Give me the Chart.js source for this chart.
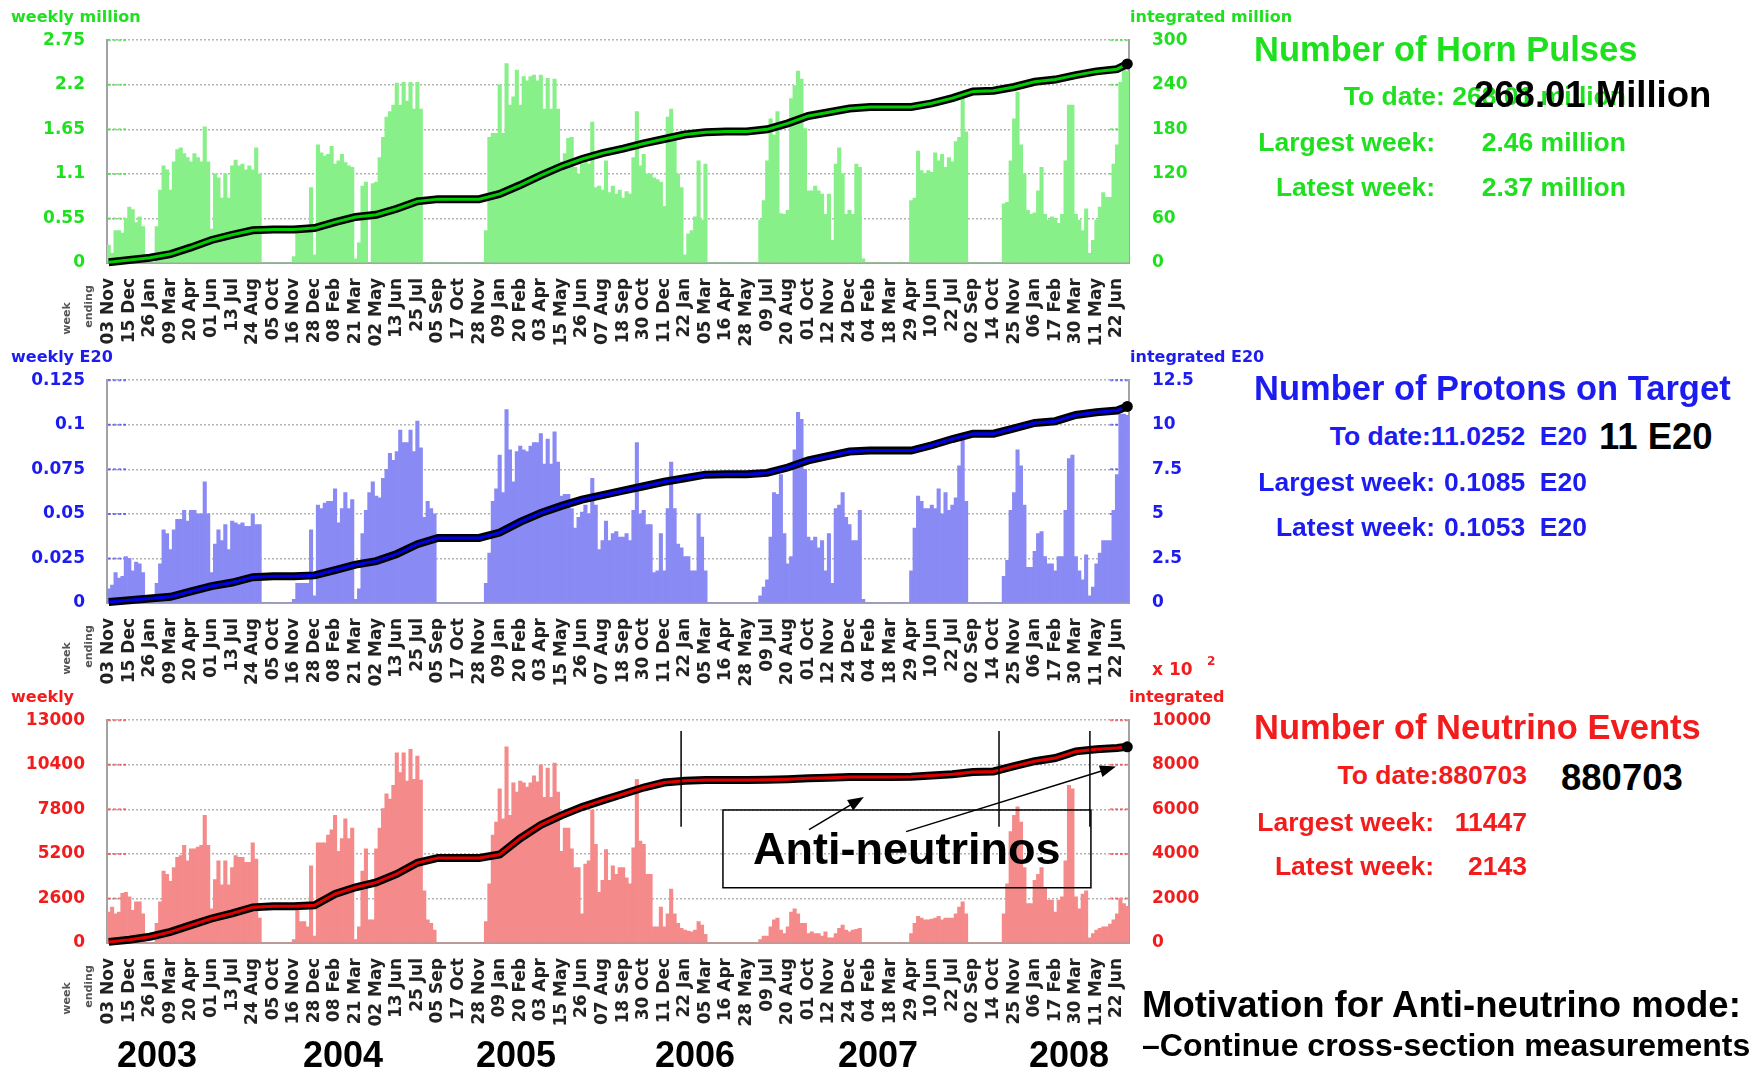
<!DOCTYPE html>
<html>
<head>
<meta charset="utf-8">
<script src="https://cdn.jsdelivr.net/npm/chart.js@4.4.1/dist/chart.umd.min.js"></script>
<style>
    body { margin: 0; background: #fff; width: 1754px; height: 1071px; overflow: hidden; position: relative; }
    .panel { position: absolute; left: 0; width: 1300px; height: 340px; }
    .txt { position: absolute; white-space: pre; font-weight: bold; line-height: 1; font-family: 'Liberation Sans', Arial, sans-serif; }
</style>
</head>
<body>
<div class="panel" style="top:7px"><canvas id="pulses" width="1300" height="340"></canvas></div>
<div class="panel" style="top:347px"><canvas id="pot" width="1300" height="340"></canvas></div>
<div class="panel" style="top:687px"><canvas id="events" width="1300" height="340"></canvas></div>

<script>
// week-ending labels, one every 6 weeks
const tickLabels = [
    '03 Nov', '15 Dec', '26 Jan', '09 Mar', '20 Apr', '01 Jun', '13 Jul', '24 Aug', '05 Oct', '16 Nov',
    '28 Dec', '08 Feb', '21 Mar', '02 May', '13 Jun', '25 Jul', '05 Sep', '17 Oct', '28 Nov', '09 Jan',
    '20 Feb', '03 Apr', '15 May', '26 Jun', '07 Aug', '18 Sep', '30 Oct', '11 Dec', '22 Jan', '05 Mar',
    '16 Apr', '28 May', '09 Jul', '20 Aug', '01 Oct', '12 Nov', '24 Dec', '04 Feb', '18 Mar', '29 Apr',
    '10 Jun', '22 Jul', '02 Sep', '14 Oct', '25 Nov', '06 Jan', '17 Feb', '30 Mar', '11 May', '22 Jun'
];
const years = ['2003', '2004', '2005', '2006', '2007', '2008'];

const pulsesTicks = ['0', '0.55', '1.1', '1.65', '2.2', '2.75'];
const pulsesTotalTicks = ['0', '60', '120', '180', '240', '300'];
const potTicks = ['0', '0.025', '0.05', '0.075', '0.1', '0.125'];
const potTotalTicks = ['0', '2.5', '5', '7.5', '10', '12.5'];
const eventTicks = ['0', '2600', '5200', '7800', '10400', '13000'];
const eventTotalTicks = ['0', '2000', '4000', '6000', '8000', '10000'];

// weekly horn pulses (million), one row = 6 weeks
const pulsesWeekly = [
    0.22, 0.12, 0.40, 0.40, 0.37, 0.55,
    0.69, 0.66, 0.50, 0.57, 0.45, 0,
    0, 0, 0.45, 0.90, 1.20, 1.15,
    0.90, 1.25, 1.40, 1.42, 1.35, 1.30,
    1.25, 1.35, 1.30, 1.25, 1.68, 1.25,
    0.42, 1.10, 1.05, 0.80, 1.10, 0.80,
    1.20, 1.27, 1.20, 1.22, 1.15, 1.20,
    1.15, 1.42, 1.10, 0, 0, 0,
    0, 0, 0, 0, 0, 0,
    0.08, 0.45, 0.45, 0.42, 0.45, 0.93,
    0.10, 1.46, 1.36, 1.32, 1.34, 1.44,
    1.22, 1.26, 1.34, 1.24, 1.20, 1.18,
    0.05, 0.25, 0.95, 1.00, 0, 0.98,
    1.00, 1.30, 1.55, 1.80, 1.87, 1.95,
    2.22, 1.95, 2.23, 2.00, 2.23, 1.90,
    2.23, 1.90, 0, 0, 0, 0,
    0, 0, 0, 0, 0, 0,
    0, 0, 0, 0, 0, 0,
    0, 0, 0.40, 1.55, 1.60, 1.60,
    2.20, 1.60, 2.46, 1.95, 2.05, 2.38,
    1.95, 2.30, 2.25, 2.30, 2.32, 2.25,
    2.32, 1.90, 2.28, 1.90, 2.27, 1.90,
    1.25, 1.35, 1.54, 1.55, 1.18, 1.10,
    1.22, 1.30, 1.22, 1.74, 0.93, 0.95,
    0.90, 1.26, 0.87, 0.95, 0.85, 0.90,
    0.80, 0.88, 0.85, 1.30, 1.87, 1.20,
    1.34, 1.10, 1.10, 1.05, 1.03, 1.00,
    0.70, 1.80, 1.90, 1.55, 1.10, 0.93,
    0.10, 0.36, 0.40, 0.57, 1.26, 0.53,
    1.22, 0, 0, 0, 0, 0,
    0, 0, 0, 0, 0, 0,
    0, 0, 0, 0, 0.53, 0.77,
    1.26, 1.78, 1.58, 1.87, 0.61, 0.60,
    0.65, 2.03, 2.19, 2.37, 2.27, 1.66,
    0.89, 0.89, 0.95, 0.89, 0.85, 0.60,
    0.85, 0.28, 1.22, 1.42, 1.10, 0.60,
    0.65, 0.60, 1.22, 1.18, 0.05, 0,
    0, 0, 0, 0, 0, 0,
    0, 0, 0, 0, 0, 0,
    0.77, 0.80, 1.38, 1.14, 1.10, 1.14,
    1.12, 1.36, 1.26, 1.34, 1.18, 1.30,
    1.25, 1.50, 1.55, 2.03, 1.62, 0,
    0, 0, 0, 0, 0, 0,
    0, 0, 0, 0.73, 0.75, 1.26,
    1.78, 2.11, 1.46, 1.10, 0.65, 0.60,
    0.62, 0.89, 1.18, 0.60, 0.53, 0.57,
    0.55, 0.49, 0.60, 1.26, 1.95, 1.95,
    0.60, 0.53, 0.40, 0.67, 0.12, 0.28,
    0.53, 0.69, 0.87, 0.81, 0.81, 1.22,
    1.46, 2.23, 2.40, 2.37
];

// weekly protons on target (E20)
const potWeekly = [
    0.008, 0.010, 0.017, 0.014, 0.015, 0.026,
    0.025, 0.018, 0.023, 0.022, 0.017, 0,
    0, 0, 0.011, 0.022, 0.041, 0.039,
    0.030, 0.041, 0.047, 0.047, 0.052, 0.046,
    0.052, 0.052, 0.050, 0.050, 0.068, 0.050,
    0.017, 0.033, 0.041, 0.035, 0.044, 0.030,
    0.046, 0.045, 0.044, 0.045, 0.043, 0.043,
    0.050, 0.044, 0.044, 0, 0, 0,
    0, 0, 0, 0, 0, 0,
    0.002, 0.011, 0.011, 0.011, 0.011, 0.041,
    0.004, 0.055, 0.053, 0.056, 0.057, 0.057,
    0.064, 0.045, 0.053, 0.062, 0.053, 0.058,
    0.002, 0.008, 0.039, 0.052, 0.062, 0.068,
    0.060, 0.059, 0.070, 0.075, 0.084, 0.080,
    0.085, 0.097, 0.090, 0.090, 0.097, 0.085,
    0.102, 0.087, 0.048, 0.057, 0.053, 0.050,
    0, 0, 0, 0, 0, 0,
    0, 0, 0, 0, 0, 0,
    0, 0, 0.011, 0.028, 0.057, 0.064,
    0.083, 0.062, 0.1085, 0.086, 0.068, 0.085,
    0.088, 0.086, 0.085, 0.088, 0.090, 0.090,
    0.095, 0.078, 0.092, 0.078, 0.096, 0.079,
    0.060, 0.061, 0.061, 0.053, 0.042, 0.048,
    0.051, 0.055, 0.050, 0.070, 0.055, 0.030,
    0.035, 0.046, 0.035, 0.039, 0.040, 0.037,
    0.037, 0.039, 0.035, 0.052, 0.090, 0.050,
    0.052, 0.044, 0.044, 0.017, 0.018, 0.039,
    0.018, 0.053, 0.079, 0.053, 0.033, 0.031,
    0.026, 0.026, 0.018, 0.018, 0.050, 0.037,
    0.018, 0, 0, 0, 0, 0,
    0, 0, 0, 0, 0, 0,
    0, 0, 0, 0, 0.004, 0.009,
    0.013, 0.037, 0.062, 0.061, 0.072, 0.039,
    0.022, 0.026, 0.086, 0.107, 0.103, 0.075,
    0.037, 0.035, 0.037, 0.031, 0.035, 0.018,
    0.039, 0.011, 0.053, 0.055, 0.062, 0.048,
    0.044, 0.035, 0.035, 0.052, 0.002, 0,
    0, 0, 0, 0, 0, 0,
    0, 0, 0, 0, 0, 0,
    0.018, 0.042, 0.060, 0.057, 0.053, 0.053,
    0.055, 0.053, 0.064, 0.050, 0.062, 0.052,
    0.055, 0.059, 0.077, 0.092, 0.057, 0,
    0, 0, 0, 0, 0, 0,
    0, 0, 0, 0.015, 0.024, 0.052,
    0.062, 0.086, 0.077, 0.055, 0.020, 0.020,
    0.029, 0.039, 0.040, 0.026, 0.022, 0.022,
    0.018, 0.026, 0.026, 0.052, 0.081, 0.083,
    0.026, 0.018, 0.013, 0.027, 0.004, 0.009,
    0.022, 0.028, 0.035, 0.035, 0.035, 0.052,
    0.072, 0.106, 0.106, 0.1053
];

// weekly neutrino events
const eventsWeekly = [
    1800, 2100, 1700, 1800, 2900, 2950,
    2700, 1900, 2400, 2400, 1700, 0,
    0, 0, 1150, 2400, 4200, 4000,
    3600, 4400, 5000, 5100, 5700, 4800,
    5500, 5500, 5600, 5700, 7450, 5700,
    2000, 3700, 4800, 3400, 4800, 3400,
    4400, 5100, 5000, 5000, 4700, 4700,
    5850, 4900, 1450, 0, 0, 0,
    0, 0, 0, 0, 0, 0,
    200, 1900, 1250, 1250, 950, 4500,
    400, 5850, 5850, 5850, 6300, 6600,
    7450, 5350, 6100, 7250, 6100, 6700,
    200, 950, 4200, 5500, 1350, 1350,
    5500, 6700, 7850, 8700, 8400, 9200,
    11100, 9950, 11100, 9450, 11300, 9550,
    10900, 9500, 3050, 1350, 1150, 750,
    0, 0, 0, 0, 0, 0,
    0, 0, 0, 0, 0, 0,
    0, 0, 1250, 3450, 6300, 7050,
    9000, 7250, 11447, 7450, 9350, 8800,
    9450, 9350, 9100, 9350, 9750, 9400,
    10400, 8500, 10200, 8500, 10500, 8800,
    5350, 6700, 6700, 5500, 4400, 4400,
    1700, 4600, 4800, 7750, 5750, 2950,
    3650, 5450, 3650, 4500, 4000, 4400,
    4400, 3800, 3450, 5550, 9550, 5950,
    5750, 4000, 4000, 950, 950, 2100,
    950, 1700, 3150, 1700, 1150, 850,
    750, 700, 650, 750, 1250, 1050,
    500, 0, 0, 0, 0, 0,
    0, 0, 0, 0, 0, 0,
    0, 0, 0, 0, 200, 400,
    400, 950, 1350, 1450, 750, 550,
    950, 1800, 2000, 1700, 1150, 1150,
    550, 650, 550, 550, 400, 650,
    300, 300, 550, 850, 1050, 750,
    650, 750, 800, 850, 0, 0,
    0, 0, 0, 0, 0, 0,
    0, 0, 0, 0, 0, 0,
    550, 1150, 1550, 1450, 1350, 1350,
    1400, 1450, 1550, 1350, 1450, 1450,
    1450, 1700, 2100, 2400, 1700, 0,
    0, 0, 0, 0, 0, 0,
    0, 0, 0, 1700, 3450, 6500,
    7450, 7950, 7050, 4400, 2300, 2300,
    3650, 4000, 4400, 3250, 2500, 2500,
    1800, 2500, 2700, 4800, 9200, 9000,
    2700, 2000, 2850, 3050, 300, 550,
    750, 850, 950, 950, 1100, 1350,
    1700, 2600, 2300, 2143
];

// integrated totals read at each labelled week, plus the final week
const pulsesTotal = [
    1, 4, 7, 12, 21, 31, 38, 44, 45, 45,
    47, 55, 62, 65, 73, 83, 86, 86, 86, 93,
    105, 118, 130, 140, 148, 154, 161, 167, 173, 176,
    177, 177, 180, 188, 198, 203, 208, 210, 210, 210,
    215, 222, 231, 232, 237, 244, 247, 253, 258, 261,
    268
];
const potTotal = [
    0.05, 0.15, 0.25, 0.35, 0.65, 0.95, 1.15, 1.45, 1.5, 1.5,
    1.55, 1.85, 2.15, 2.35, 2.75, 3.3, 3.65, 3.65, 3.65, 3.95,
    4.55, 5.05, 5.45, 5.8, 6.05, 6.3, 6.55, 6.8, 7.0, 7.2,
    7.22, 7.22, 7.3, 7.6, 8.0, 8.25, 8.5, 8.55, 8.55, 8.55,
    8.85, 9.2, 9.5, 9.5, 9.8, 10.1, 10.2, 10.55, 10.7, 10.8,
    11.03
];
const eventsTotal = [
    50, 150, 280, 500, 800, 1100, 1330, 1600, 1650, 1650,
    1690, 2200, 2500, 2720, 3100, 3600, 3820, 3820, 3820, 3970,
    4700, 5300, 5730, 6100, 6400, 6690, 6980, 7200, 7280, 7320,
    7320, 7320, 7330, 7350, 7390, 7420, 7450, 7450, 7450, 7460,
    7520, 7570, 7670, 7700, 7940, 8160, 8300, 8600, 8700, 8750,
    8807
];

const plotFont = 'DejaVu Sans';

function arrow(ctx, x1, y1, x2, y2) {
    const a = Math.atan2(y2 - y1, x2 - x1);
    ctx.beginPath();
    ctx.moveTo(x1, y1);
    ctx.lineTo(x2 - 10 * Math.cos(a), y2 - 10 * Math.sin(a));
    ctx.stroke();
    ctx.beginPath();
    ctx.moveTo(x2, y2);
    ctx.lineTo(x2 - 16 * Math.cos(a) + 6 * Math.sin(a), y2 - 16 * Math.sin(a) - 6 * Math.cos(a));
    ctx.lineTo(x2 - 16 * Math.cos(a) - 6 * Math.sin(a), y2 - 16 * Math.sin(a) + 6 * Math.cos(a));
    ctx.closePath();
    ctx.fill();
}

// short coloured dashes where the grid lines meet the two axes
const edgeTicks = {
    id: 'edgeTicks',
    beforeDatasetsDraw(chart, args, opts) {
        const { ctx, chartArea: a, scales: { y } } = chart;
        ctx.save();
        ctx.strokeStyle = opts.color;
        ctx.globalAlpha = 0.55;
        ctx.lineWidth = 2;
        ctx.setLineDash([3, 2]);
        y.ticks.forEach(t => {
            if (t.value === 0) return;
            const py = y.getPixelForValue(t.value);
            ctx.beginPath();
            ctx.moveTo(a.left + 1, py); ctx.lineTo(a.left + 19, py);
            ctx.moveTo(a.right - 19, py); ctx.lineTo(a.right - 1, py);
            ctx.stroke();
        });
        ctx.restore();
    }
};

const antiNote = {
    id: 'antiNote',
    afterDraw(chart) {
        const { ctx, scales: { x, y2 } } = chart;
        const px = w => x.getPixelForValue(w);
        const py = v => y2.getPixelForValue(v);
        ctx.save();
        ctx.strokeStyle = '#000';
        ctx.fillStyle = '#000';
        ctx.lineWidth = 1.5;
        [166.9, 259.6, 286.1].forEach(w => {
            ctx.beginPath();
            ctx.moveTo(px(w), py(9510));
            ctx.lineTo(px(w), py(5220));
            ctx.stroke();
        });
        ctx.strokeRect(px(179.1), py(5970), px(286.4) - px(179.1), py(2480) - py(5970));
        arrow(ctx, px(204.2), py(5090), px(220.2), py(6550));
        arrow(ctx, px(232.5), py(5000), px(293.7), py(7920));
        ctx.font = 'bold 45px "Liberation Sans", Arial, sans-serif';
        ctx.textAlign = 'center';
        ctx.textBaseline = 'middle';
        ctx.fillText('Anti-neutrinos', px(232.7), py(4204) + 2);
        ctx.restore();
    }
};

function makePanel(id, weekly, total, leftTicks, rightTicks, color, barColor, lineColor, extra) {
    const n = weekly.length;
    const weeks = weekly.map((_, i) => i);
    const totalLine = new Array(n).fill(null);
    total.forEach((v, k) => { totalLine[k < tickLabels.length ? k * 6 : n - 1] = v; });
    const tickFont = { family: plotFont, weight: 'bold', size: 17 };

    return new Chart(document.getElementById(id), {
        type: 'bar',
        data: {
            labels: weeks,
            datasets: [
                {
                    type: 'line', data: totalLine, yAxisID: 'y2', order: 1, spanGaps: true,
                    borderColor: lineColor, borderWidth: 3,
                    pointRadius: c => c.dataIndex === n - 1 ? 5.5 : 0,
                    pointBackgroundColor: '#000', pointBorderWidth: 0, clip: false
                },
                {
                    type: 'line', data: totalLine, yAxisID: 'y2', order: 2, spanGaps: true,
                    borderColor: '#000', borderWidth: 8, pointRadius: 0, clip: false
                },
                {
                    data: weekly, yAxisID: 'y', order: 3,
                    backgroundColor: barColor, barPercentage: 1, categoryPercentage: 1
                }
            ]
        },
        options: {
            responsive: false,
            animation: false,
            events: [],
            layout: { padding: { top: 30, left: 0, right: 0, bottom: 0 } },
            plugins: { legend: { display: false }, tooltip: { enabled: false }, edgeTicks: { color } },
            scales: {
                x: {
                    offset: true,
                    grid: { display: false },
                    border: { color: '#a3a3a3', width: 2 },
                    ticks: {
                        autoSkip: false, minRotation: 90, maxRotation: 90, padding: 7,
                        color: '#222', font: tickFont,
                        callback: (v, i) => i % 6 === 0 ? tickLabels[i / 6] : ''
                    },
                    afterFit: s => { s.height = 84; }
                },
                y: {
                    position: 'left',
                    min: 0, max: parseFloat(leftTicks[leftTicks.length - 1]),
                    afterBuildTicks: s => { s.ticks = leftTicks.map(t => ({ value: parseFloat(t) })); },
                    ticks: { padding: 22, color, font: tickFont, callback: (v, i) => leftTicks[i] },
                    grid: { color: '#b4b4b4', lineWidth: 1.5, drawTicks: false },
                    border: { color: '#a3a3a3', width: 2, dash: [2, 2] },
                    afterFit: s => { s.width = 107; }
                },
                y2: {
                    position: 'right',
                    min: 0, max: parseFloat(rightTicks[rightTicks.length - 1]),
                    afterBuildTicks: s => { s.ticks = rightTicks.map(t => ({ value: parseFloat(t) })); },
                    ticks: { padding: 23, color, font: tickFont, callback: (v, i) => rightTicks[i] },
                    grid: { display: false, drawTicks: false },
                    border: { color: '#a3a3a3', width: 2 },
                    afterFit: s => { s.width = 171; }
                }
            }
        },
        plugins: [edgeTicks].concat(extra || [])
    });
}

const green = '#1fe01f', blue = '#1c1cf0', red = '#f21c1c';

makePanel('pulses', pulsesWeekly, pulsesTotal, pulsesTicks, pulsesTotalTicks, green, '#88f088', '#00cc00');
makePanel('pot', potWeekly, potTotal, potTicks, potTotalTicks, blue, '#8a8af5', '#0000e6');
makePanel('events', eventsWeekly, eventsTotal, eventTicks, eventTotalTicks, red, '#f58a8a', '#e00000', [antiNote]);

// text around the plots
function put(text, x, yc, size, color, align, family, extraStyle) {
    const d = document.createElement('div');
    d.className = 'txt';
    d.textContent = text;
    d.style.fontSize = size + 'px';
    d.style.color = color;
    d.style.top = (yc - size * 0.49) + 'px';
    if (family) d.style.fontFamily = family;
    if (align === 'right') d.style.right = (1754 - x) + 'px';
    else if (align === 'center') { d.style.left = (x - 150) + 'px'; d.style.width = '300px'; d.style.textAlign = 'center'; }
    else d.style.left = x + 'px';
    if (extraStyle) Object.assign(d.style, extraStyle);
    document.body.appendChild(d);
    return d;
}

const pf = "'DejaVu Sans', sans-serif";
put('weekly million', 11, 17, 16, green, 'left', pf);
put('integrated million', 1130, 17, 16, green, 'left', pf);
put('weekly E20', 11, 357, 16, blue, 'left', pf);
put('integrated E20', 1130, 357, 16, blue, 'left', pf);
put('weekly', 11, 697, 16, red, 'left', pf);
put('integrated', 1129, 697, 16, red, 'left', pf);
put('x 10', 1152, 669, 17, red, 'left', pf);
put('2', 1207, 661, 12, red, 'left', pf);

[0, 340, 680].forEach(dy => {
    put('week', 66, 318 + dy, 11, '#555', 'center', pf, { transform: 'rotate(-90deg)' });
    put('ending', 88, 306 + dy, 11, '#555', 'center', pf, { transform: 'rotate(-90deg)' });
});

put('Number of Horn Pulses', 1254, 49, 34.5, green, 'left');
put('To date: 268.01 million', 1626, 96, 26.5, green, 'right');
put('268.01 Million', 1474, 95, 36.5, '#000', 'left');
put('Largest week:', 1435, 142, 26.5, green, 'right');
put('2.46 million', 1626, 142, 26.5, green, 'right');
put('Latest week:', 1435, 187, 26.5, green, 'right');
put('2.37 million', 1626, 187, 26.5, green, 'right');

put('Number of Protons on Target', 1254, 388, 34.5, blue, 'left');
put('To date:11.0252  E20', 1587, 436, 26.5, blue, 'right');
put('11 E20', 1599, 437, 36.5, '#000', 'left');
put('Largest week:', 1435, 482, 26.5, blue, 'right');
put('0.1085  E20', 1587, 482, 26.5, blue, 'right');
put('Latest week:', 1435, 527, 26.5, blue, 'right');
put('0.1053  E20', 1587, 527, 26.5, blue, 'right');

put('Number of Neutrino Events', 1254, 727, 34.5, red, 'left');
put('To date:880703', 1527, 775, 26.5, red, 'right');
put('880703', 1561, 778, 36.5, '#000', 'left');
put('Largest week:', 1434, 822, 26.5, red, 'right');
put('11447', 1527, 822, 26.5, red, 'right');
put('Latest week:', 1434, 866, 26.5, red, 'right');
put('2143', 1527, 866, 26.5, red, 'right');

put('Motivation for Anti-neutrino mode:', 1142, 1005, 36.5, '#000', 'left');
put('\u2013Continue cross-section measurements', 1142, 1045, 32, '#000', 'left');

const yearX = [157, 343, 516, 695, 878, 1069];
years.forEach((y, i) => put(y, yearX[i], 1055, 36, '#000', 'center'));
</script>
</body>
</html>
